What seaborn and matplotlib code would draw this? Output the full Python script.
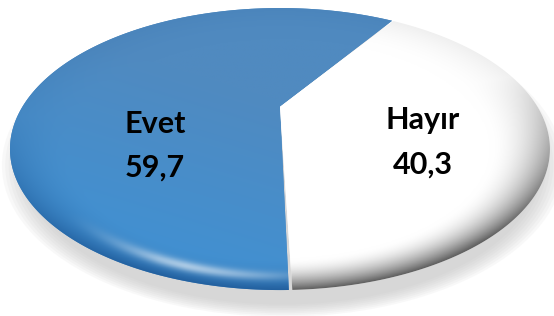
import numpy as np
import matplotlib
matplotlib.use("Agg")
import matplotlib.pyplot as plt
import seaborn as sns
from matplotlib.patches import Ellipse, PathPatch
from matplotlib.path import Path

sns.set_theme(style="white")
plt.rcParams['font.family'] = ['Lato', 'DejaVu Sans']

categories = ["Evet", "Hayır"]
values = [59.7, 40.3]
value_labels = ["59,7", "40,3"]
colors = ["#4A88C2", "#FFFFFF"]

XL = (-1.037, 1.015)
YL = (-1.184, 1.057)
TILT = 0.30  # perspective tilt (projective map keeps straight edges straight)

fig = plt.figure(figsize=(5.54, 3.16), dpi=100)
ax = fig.add_axes([0, 0, 1, 1])

wedges, _ = ax.pie(values, colors=colors, startangle=57, counterclock=True,
                   radius=1.0, center=(0, 0), frame=True,
                   wedgeprops=dict(edgecolor="none", linewidth=0))
ax.set_aspect("auto")
ax.set_xlim(*XL)
ax.set_ylim(*YL)
ax.set_axis_off()


def warp(xy):
    x, y = xy[:, 0], xy[:, 1]
    d = 1 + TILT * y
    return np.column_stack([x * np.sqrt(1 - TILT ** 2) / d, (y + TILT) / d])


def wedge_polygon(w):
    cx, cy = w.center
    r = w.r
    t1, t2 = np.deg2rad(w.theta1), np.deg2rad(w.theta2)
    th = np.linspace(t1, t2, 400)
    arc = np.column_stack([cx + r * np.cos(th), cy + r * np.sin(th)])
    return warp(np.vstack([[[cx, cy]], arc]))


# soft shadow under the disc
for i in range(8):
    ax.add_patch(Ellipse((0.01, -0.115), 2.08 - 0.025 * i, 2.15 - 0.025 * i,
                         facecolor="#b8b8b8", edgecolor="none", alpha=0.085, zorder=0))

n = 500
xs = np.linspace(-1.05, 1.05, n)
ys = np.linspace(-1.05, 1.05, n)
X, Y = np.meshgrid(xs, ys)
R = np.hypot(X, Y)
edge = np.clip((R - 0.78) / 0.22, 0, 1) ** 1.8
bottom = np.clip(0.3 - 0.8 * Y, 0.12, 1.0)

# blue shading
base = np.array([80, 138, 192]) / 255
light = np.array([62, 146, 214]) / 255
dark = np.array([30, 88, 150]) / 255
t = np.clip((-Y * 0.6 - X * 0.35 + 0.2), 0, 1)[..., None]
img_b = base * (1 - t) + light * t
k = (edge * bottom)[..., None] * 0.85
img_b = img_b * (1 - k) + dark * k
hl = (np.exp(-((R - 0.90) / 0.035) ** 2) * np.clip((-Y - 0.45) * 2, 0, 1)
      * np.clip((0.15 - X) * 2, 0, 1) * np.clip((X + 0.85) * 2.5, 0, 1))
img_b = img_b + (1 - img_b) * (0.75 * hl)[..., None]

# white shading
g = 1 - 0.62 * edge * np.clip(0.25 - 0.8 * Y + 0.3 * X, 0.1, 1.0)
img_w = np.dstack([g, g, g])

for w, img in zip(wedges, [img_b, img_w]):
    w.set_visible(False)
    poly = wedge_polygon(w)
    patch = PathPatch(Path(poly, closed=True), facecolor=w.get_facecolor(),
                      edgecolor="none", zorder=1)
    ax.add_patch(patch)
    im = ax.imshow(np.clip(img, 0, 1), extent=(-1.05, 1.05, -1.05, 1.05), origin="lower",
                   aspect="auto", zorder=2, interpolation="bilinear")
    im.set_clip_path(patch)

ax.set_xlim(*XL)
ax.set_ylim(*YL)

# labels
label_pos = [(-0.463, 0.177, -0.135), (0.530, 0.206, -0.113)]
for (x, y1, y2), c, v in zip(label_pos, categories, value_labels):
    ax.text(x, y1, c, ha="center", va="center", fontsize=22, fontweight="bold",
            color="black", zorder=5)
    ax.text(x, y2, v, ha="center", va="center", fontsize=22, fontweight="bold",
            color="black", zorder=5)

fig.savefig("out.png", dpi=100, facecolor="white")
